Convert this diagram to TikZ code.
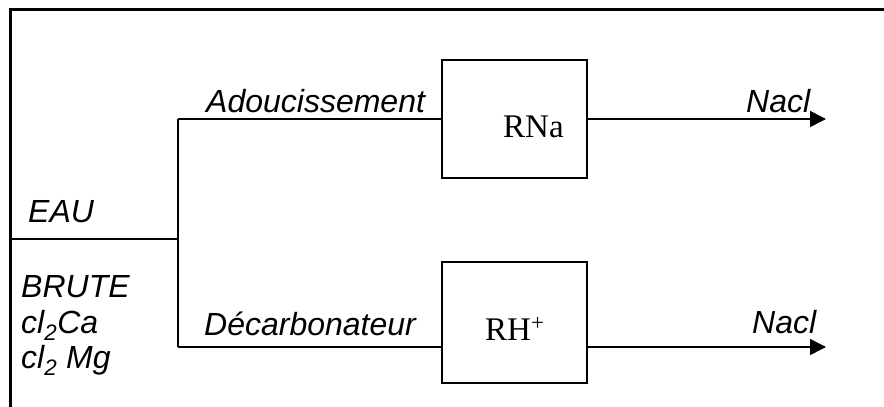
\documentclass[tikz,border=0pt]{standalone}
\usepackage{fontspec}
\setmainfont{Liberation Serif}
\setsansfont{Liberation Sans}
\usetikzlibrary{arrows.meta}
\begin{document}
\begin{tikzpicture}[x=1pt,y=-1pt,
 lbl/.style={font=\sffamily\itshape\fontsize{32}{37}\selectfont, anchor=base west, inner sep=0pt},
 boxtxt/.style={font=\fontsize{33}{38}\selectfont, anchor=base west, inner sep=0pt},
 blk/.style={draw, line width=1.6pt, minimum width=145pt, minimum height=118pt, inner sep=0pt},
 ln/.style={line width=1.6pt},
 arr/.style={ln, -{Triangle[length=16pt,width=16pt]}},
 edgeline/.style={line width=3pt}]
\useasboundingbox (0,0) rectangle (884,407);
% frame (only top and left visible)
\coordinate (fa) at (10,407);
\coordinate (fb) at (10,9);
\coordinate (fc) at (884,9);
\draw[edgeline] (fa) -- (fb) -- (fc);
% boxes
\node[blk] (rna) at (514.5,119) {};
\node[blk, minimum height=121pt] (rh) at (514.5,322.5) {};
\node[boxtxt] (rnat) at (503,137) {RNa};
\node[boxtxt] (rht) at (485,340) {RH\textsuperscript{+}};
% junctions
\coordinate (j0) at (10,239);
\coordinate (j1) at (178,239);
\coordinate (jt) at (178,119);
\coordinate (jb) at (178,347);
\coordinate (e1) at (826,119);
\coordinate (e2) at (826,347);
\draw[ln] (j0) -- (j1);
\draw[ln] (jt) -- (jb);
\draw[ln] (jt) -- (rna.west);
\draw[ln] (jb) -- (jb -| rh.west);
\draw[arr] (rna.east) -- (e1);
\draw[arr] (jb -| rh.east) -- (e2);
% labels
\node[lbl] (eau) at (28,222) {EAU};
\node[lbl] (brute) at (21,297) {BRUTE};
\node[lbl] (cla) at (21,333) {cl\textsubscript{2}Ca};
\node[lbl] (clm) at (21,368) {cl\textsubscript{2} Mg};
\node[lbl] (adou) at (206,112) {Adoucissement};
\node[lbl] (deca) at (204,335) {Décarbonateur};
\node[lbl] (nacl1) at (746,112) {Nacl};
\node[lbl] (nacl2) at (752,333) {Nacl};
\end{tikzpicture}
\end{document}
